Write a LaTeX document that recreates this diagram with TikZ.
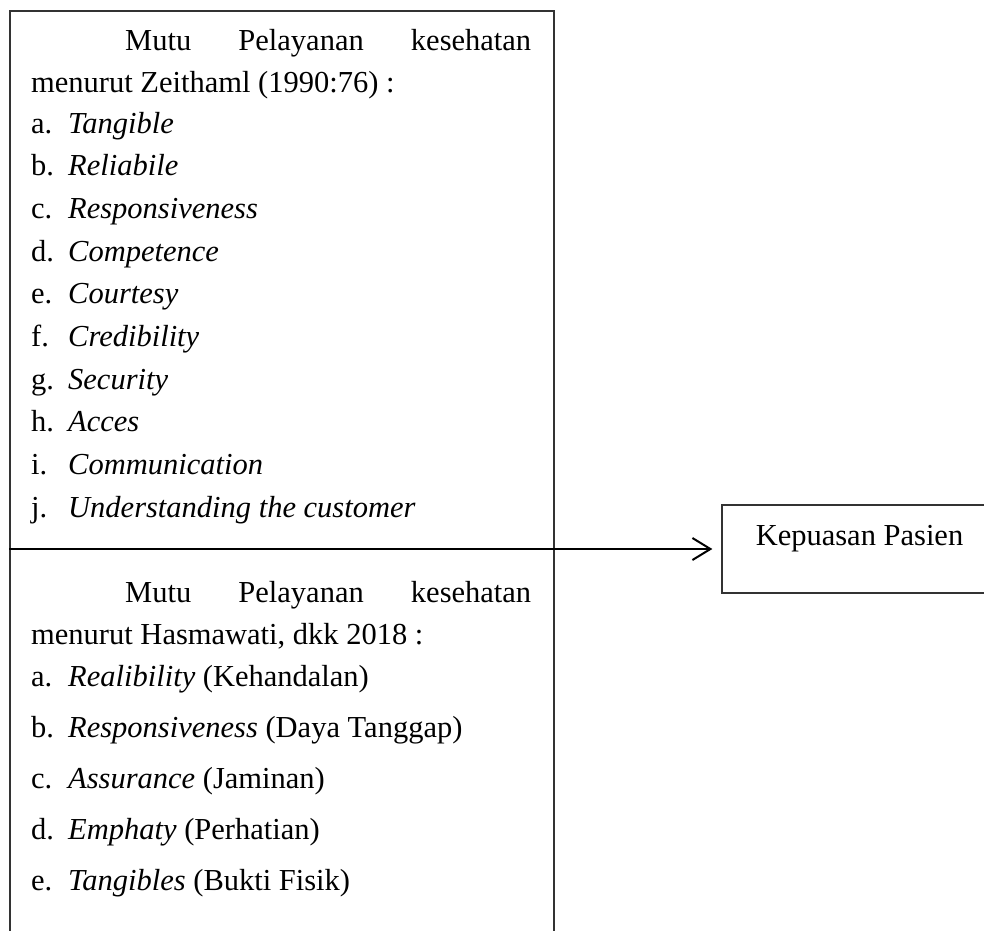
\documentclass[tikz,border=0pt]{standalone}
\usepackage{fontspec}
\setmainfont{Liberation Serif}
\usetikzlibrary{arrows.meta}
\begin{document}
\begin{tikzpicture}[x=1pt,y=-1pt,
  txt/.style={anchor=base west, inner sep=0pt, font=\fontsize{30.5}{36}\selectfont},
  frame/.style={draw=black!80, line width=1.3pt},
  link/.style={draw=black, line width=2pt, shorten >=9pt, -{Straight Barb[length=18pt,width=22pt,line width=2pt]}}]
\useasboundingbox (0,0) rectangle (984,930);
% outer open frame
\draw[frame] (10,935) -- (10,11) -- (554,11) -- (554,935);
% right box
\node[frame, minimum width=275pt, minimum height=88pt, inner sep=0pt] (kep) at (859.5,549) {};
\node[anchor=base, inner sep=0pt, font=\fontsize{30.5}{36}\selectfont] (keptxt) at (859.5,545) {Kepuasan Pasien};
% divider + arrow
\coordinate (ds) at (9,549);
\draw[link] (ds) -- (kep.west);
% top section
\node[txt] (h1a) at (125,50) {\makebox[406pt]{Mutu\hfill Pelayanan\hfill kesehatan}};
\node[txt] (h1b) at (31,92) {menurut Zeithaml (1990:76) :};
\foreach \l/\t [count=\i from 0] in {a./Tangible, b./Reliabile, c./Responsiveness, d./Competence, e./Courtesy, f./Credibility, g./Security, h./Acces, i./Communication, j./Understanding the customer}{
  \node[txt] (top\i) at (31,133+42.7*\i) {\makebox[37pt][l]{\l}\textit{\t}};
}
% bottom section
\node[txt] (h2a) at (125,602) {\makebox[406pt]{Mutu\hfill Pelayanan\hfill kesehatan}};
\node[txt] (h2b) at (31,644) {menurut Hasmawati, dkk 2018 :};
\node[txt] (bot0) at (31,686) {\makebox[37pt][l]{a.}\textit{Realibility} (Kehandalan)};
\node[txt] (bot1) at (31,737) {\makebox[37pt][l]{b.}\textit{Responsiveness} (Daya Tanggap)};
\node[txt] (bot2) at (31,788) {\makebox[37pt][l]{c.}\textit{Assurance} (Jaminan)};
\node[txt] (bot3) at (31,839) {\makebox[37pt][l]{d.}\textit{Emphaty} (Perhatian)};
\node[txt] (bot4) at (31,890) {\makebox[37pt][l]{e.}\textit{Tangibles} (Bukti Fisik)};
\end{tikzpicture}
\end{document}
